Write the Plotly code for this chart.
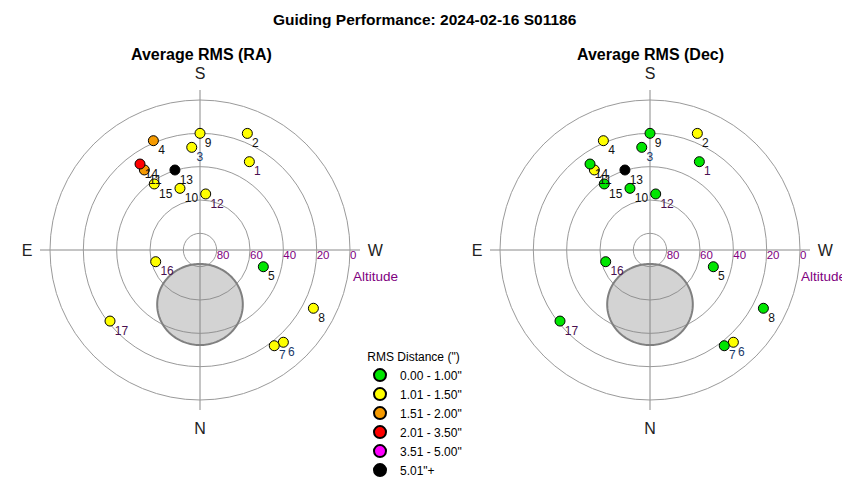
import math
import plotly.graph_objects as go

# ---------------- data ----------------
point_ids = [str(i) for i in range(1, 18)]
azimuth = [209.2, 202.1, 175.4, 156.9, 284.8, 317.9, 322.2, 297.2, 180.0,
           162.0, 145.2, 185.8, 162.6, 145.1, 145.3, 75.2, 51.7]
altitude = [29.3, 14.5, 28.2, 18.7, 50.7, 15.4, 17.3, 13.5, 20.0,
            51.1, 31.5, 56.2, 39.7, 27.1, 41.8, 62.5, 21.2]
# RMS class index per point (0..5) for RA and Dec
ra_class = [1, 1, 1, 2, 0, 1, 1, 1, 1, 1, 2, 1, 5, 3, 1, 1, 1]
dec_class = [0, 1, 0, 1, 0, 1, 0, 0, 0, 0, 1, 0, 5, 0, 0, 0, 0]
class_labels = ['0.00 - 1.00"', '1.01 - 1.50"', '1.51 - 2.00"',
                '2.01 - 3.50"', '3.51 - 5.00"', '5.01"+']
altitude_rings = [80, 60, 40, 20, 0]
compass_names = ["N", "E", "S", "W"]
compass_az = [0, 90, 180, 270]
# exclusion zone (sky circle)
zone_az = 0.0
zone_alt = 57.3
zone_radius = 24.3

# ---------------- styles ----------------
class_colors = ["#00e600", "#ffff00", "#f59a00", "#ff0000", "#ff00ff", "#000000"]
label_color_map = {"1": "#4a1050", "12": "#4a1050", "16": "#4a1050", "17": "#4a1050",
                   "3": "#1a3a6a", "6": "#1a3a6a", "7": "#1a3a6a"}
label_colors = [label_color_map.get(p, "#111111") for p in point_ids]
FONT = "Liberation Sans, Arial, sans-serif"
W, H = 850, 480
OFF = 8  # page body margin


def px(x):
    return (x - OFF) / W


def py(y):
    return 1 - (y - OFF) / H


def sky_circle(az0, alt0, rho, n=181):
    la0 = math.radians(alt0)
    p = math.radians(rho)
    rs, ts = [], []
    for i in range(n):
        b = math.radians(360.0 * i / (n - 1))
        lat = math.asin(math.sin(la0) * math.cos(p) + math.cos(la0) * math.sin(p) * math.cos(b))
        dlon = math.atan2(math.sin(b) * math.sin(p) * math.cos(la0),
                          math.cos(p) - math.sin(la0) * math.sin(lat))
        rs.append(90 - math.degrees(lat))
        ts.append(az0 + math.degrees(dlon))
    return rs, ts


fig = go.Figure()
zr, zt = sky_circle(zone_az, zone_alt, zone_radius)
zen = [90 - a for a in altitude]

for pname, classes in [("polar", ra_class), ("polar2", dec_class)]:
    fig.add_trace(go.Scatterpolar(
        r=zr, theta=zt, mode="lines", fill="toself",
        fillcolor="rgba(128,128,128,0.35)",
        line=dict(color="#808080", width=2),
        subplot=pname, showlegend=False, hoverinfo="skip"))
    fig.add_trace(go.Scatterpolar(
        r=[90 - a for a in altitude_rings], theta=[270] * len(altitude_rings),
        mode="text", text=[str(a) for a in altitude_rings],
        textposition="bottom right",
        textfont=dict(family=FONT, size=11.5, color="#800080"),
        subplot=pname, showlegend=False, hoverinfo="skip"))
    fig.add_trace(go.Scatterpolar(
        r=zen, theta=azimuth, mode="markers",
        marker=dict(size=10, color=[class_colors[c] for c in classes],
                    line=dict(color="#000000", width=1)),
        subplot=pname, showlegend=False, hoverinfo="skip"))
    fig.add_trace(go.Scatterpolar(
        r=zen, theta=azimuth, mode="markers+text",
        marker=dict(size=6, color="rgba(0,0,0,0)", line=dict(width=0)),
        text=point_ids, textposition="bottom right",
        textfont=dict(family=FONT, size=12, color=label_colors),
        subplot=pname, showlegend=False, hoverinfo="skip"))

for c, lab in enumerate(class_labels):
    fig.add_trace(go.Scatterpolar(
        r=[None], theta=[None], mode="markers", name=lab,
        marker=dict(size=9, color=class_colors[c], line=dict(color="#000000", width=1)),
        subplot="polar", showlegend=True))


def polar_layout(cx, cy, rad):
    return dict(
        domain=dict(x=[px(cx - rad), px(cx + rad)], y=[py(cy + rad), py(cy - rad)]),
        bgcolor="white",
        radialaxis=dict(range=[0, 96], tickvals=[90 - a for a in altitude_rings],
                        showticklabels=False, ticks="", showline=False,
                        gridcolor="#9a9a9a", gridwidth=1, angle=0),
        angularaxis=dict(rotation=270, direction="clockwise",
                         tickmode="array", tickvals=compass_az, ticktext=compass_names,
                         ticks="outside", ticklen=4, tickcolor="rgba(0,0,0,0)",
                         showline=False, gridcolor="#8a8a8a", gridwidth=1,
                         tickfont=dict(family=FONT, size=16, color="#222222")),
    )


def ann(text, x, y, size=14, color="#000000"):
    return dict(text=text, x=px(x), y=py(y), xref="paper", yref="paper",
                xanchor="center", yanchor="middle", showarrow=False,
                font=dict(size=size, family=FONT, color=color))


fig.update_layout(
    width=W, height=H,
    margin=dict(l=0, r=0, t=0, b=0, autoexpand=False),
    paper_bgcolor="white",
    font=dict(family=FONT, size=12, color="#000000"),
    polar=polar_layout(200, 250, 160),
    polar2=polar_layout(650, 250, 160),
    showlegend=True,
    legend=dict(x=px(360), y=py(345), xanchor="left", yanchor="top",
                title=dict(text='RMS Distance (")', side="top center",
                           font=dict(family=FONT, size=12)),
                font=dict(family=FONT, size=12), bgcolor="rgba(0,0,0,0)",
                tracegroupgap=0, itemsizing="constant"),
    annotations=[
        ann("<b>Guiding Performance: 2024-02-16 S01186</b>", 425, 19, 15.5),
        ann("<b>Average RMS (RA)</b>", 201, 54, 16),
        ann("<b>Average RMS (Dec)</b>", 650, 54, 16),
        ann("Altitude", 375, 276, 13.5, "#800080"),
        ann("Altitude", 823, 276, 13.5, "#800080"),
    ],
)

fig.write_html("out.html")
